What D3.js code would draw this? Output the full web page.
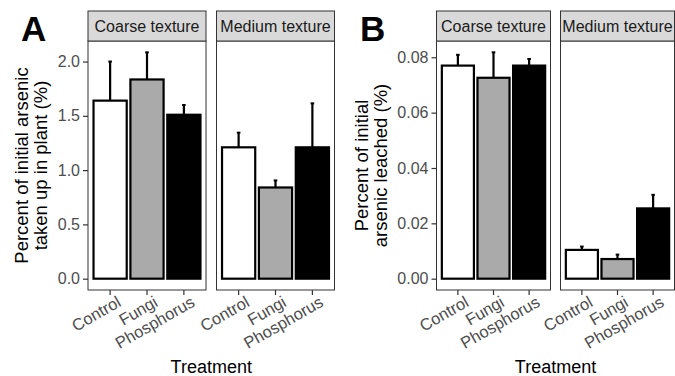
<!DOCTYPE html>
<html>
<head>
<meta charset="utf-8">
<script src="https://cdn.jsdelivr.net/npm/d3@7"></script>
<style>
  body { margin: 0; background: #fff; }
  text { font-family: "Liberation Sans", Arial, sans-serif; }
</style>
</head>
<body>
<svg id="chart"></svg>
<script>
// categories
const treatments = ["Control", "Fungi", "Phosphorus"];
const textures = ["Coarse texture", "Medium texture"];
const fills = ["#ffffff", "#aaaaaa", "#000000"];

// panel A: percent of initial arsenic taken up in plant
const plantCoarse = [1.64, 1.835, 1.51];
const plantCoarseSE = [0.36, 0.25, 0.09];
const plantMedium = [1.21, 0.84, 1.21];
const plantMediumSE = [0.135, 0.065, 0.405];
const plantTicks = [0, 0.5, 1.0, 1.5, 2.0];

// panel B: percent of initial arsenic leached
const leachCoarse = [0.077, 0.0726, 0.077];
const leachCoarseSE = [0.0039, 0.0092, 0.0024];
const leachMedium = [0.0104, 0.0071, 0.0254];
const leachMediumSE = [0.0012, 0.0016, 0.0049];
const leachTicks = [0, 0.02, 0.04, 0.06, 0.08];

let width = 675;
let height = 376;

let svg = d3.select("#chart")
    .attr("width", width)
    .attr("height", height);

// builds rows {texture, treatment, mean, se} for one measurement
function makeRows(means, ses) {
    let rows = [];
    textures.forEach((tex, f) => {
        treatments.forEach((tr, i) => {
            rows.push({ texture: tex, treatment: tr, mean: means[f][i], se: ses[f][i], fill: fills[i] });
        });
    });
    return rows;
}

function drawPanel(opts) {
    let g = svg.append("g");
    let top = 41, bottom = 290, stripTop = 11;

    // ggplot style 5% expansion around [0, max(mean + se)]
    let ymax = d3.max(opts.rows, d => d.mean + d.se);
    let pad = ymax * 0.05;
    let y = d3.scaleLinear()
        .domain([-pad, ymax + pad])
        .range([bottom, top]);

    textures.forEach((tex, f) => {
        let x0 = opts.left + f * (opts.facetWidth + opts.gap);
        let x1 = x0 + opts.facetWidth;
        let x = d3.scaleBand()
            .domain(treatments)
            .range([x0, x1])
            .paddingInner(0.1)
            .paddingOuter(0.15);

        let rows = opts.rows.filter(d => d.texture === tex);

        // bars
        g.append("g").selectAll("rect")
            .data(rows)
            .enter().append("rect")
            .attr("x", d => x(d.treatment))
            .attr("width", x.bandwidth())
            .attr("y", d => y(d.mean))
            .attr("height", d => y(0) - y(d.mean))
            .attr("fill", d => d.fill)
            .attr("stroke", "#000")
            .attr("stroke-width", 2.2);

        // error bars (upper half only)
        let err = g.append("g").selectAll("g")
            .data(rows)
            .enter().append("g");
        err.append("line")
            .attr("x1", d => x(d.treatment) + x.bandwidth() / 2)
            .attr("x2", d => x(d.treatment) + x.bandwidth() / 2)
            .attr("y1", d => y(d.mean))
            .attr("y2", d => y(d.mean + d.se))
            .attr("stroke", "#000")
            .attr("stroke-width", 2.2);
        err.append("line")
            .attr("x1", d => x(d.treatment) + x.bandwidth() / 2 - 1.8)
            .attr("x2", d => x(d.treatment) + x.bandwidth() / 2 + 1.8)
            .attr("y1", d => y(d.mean + d.se))
            .attr("y2", d => y(d.mean + d.se))
            .attr("stroke", "#000")
            .attr("stroke-width", 2);

        // panel border
        g.append("rect")
            .attr("x", x0).attr("y", top)
            .attr("width", opts.facetWidth).attr("height", bottom - top)
            .attr("fill", "none")
            .attr("stroke", "#333")
            .attr("stroke-width", 1);

        // strip
        g.append("rect")
            .attr("x", x0).attr("y", stripTop)
            .attr("width", opts.facetWidth).attr("height", top - stripTop)
            .attr("fill", "#d9d9d9")
            .attr("stroke", "#333")
            .attr("stroke-width", 1);
        g.append("text")
            .attr("x", (x0 + x1) / 2)
            .attr("y", (stripTop + top) / 2 + 6)
            .attr("text-anchor", "middle")
            .attr("font-size", 16)
            .attr("fill", "#1a1a1a")
            .text(tex);

        // x axis with rotated labels
        let xAxis = g.append("g")
            .attr("transform", `translate(0,${bottom})`)
            .call(d3.axisBottom(x).tickSize(5).tickSizeOuter(0));
        xAxis.select(".domain").remove();
        xAxis.selectAll(".tick line").attr("stroke", "#333").attr("stroke-width", 1.2);
        xAxis.selectAll(".tick text")
            .attr("font-size", 16.5)
            .attr("fill", "#4d4d4d")
            .attr("text-anchor", "end")
            .attr("x", 0).attr("y", 0).attr("dy", "0.72em")
            .attr("transform", "translate(6,5) rotate(-30)");

        // y axis only on the first facet
        if (f === 0) {
            let yAxis = g.append("g")
                .attr("transform", `translate(${x0},0)`)
                .call(d3.axisLeft(y).tickValues(opts.ticks).tickFormat(opts.format).tickSize(5));
            yAxis.select(".domain").remove();
            yAxis.selectAll(".tick line").attr("stroke", "#333").attr("stroke-width", 1.2);
            yAxis.selectAll(".tick text")
                .attr("font-size", 16)
                .attr("fill", "#4d4d4d")
                .attr("x", -8);
        }
    });

    // y title, two lines
    let cy = (top + bottom) / 2;
    opts.title.forEach((line, i) => {
        g.append("text")
            .attr("transform", `translate(${opts.titleX + i * 19},${cy}) rotate(-90)`)
            .attr("text-anchor", "middle")
            .attr("font-size", 18.5)
            .attr("fill", "#000")
            .text(line);
    });

    // x title
    g.append("text")
        .attr("x", opts.left + opts.facetWidth + opts.gap / 2)
        .attr("y", 373)
        .attr("text-anchor", "middle")
        .attr("font-size", 18)
        .attr("fill", "#000")
        .text("Treatment");

    // panel letter
    g.append("text")
        .attr("x", opts.letterX)
        .attr("y", 41)
        .attr("font-size", 35)
        .attr("font-weight", "bold")
        .attr("fill", "#000")
        .text(opts.letter);
}

drawPanel({
    rows: makeRows([plantCoarse, plantMedium], [plantCoarseSE, plantMediumSE]),
    ticks: plantTicks,
    format: d3.format(".1f"),
    left: 88, facetWidth: 118, gap: 10.5,
    title: ["Percent of initial arsenic", "taken up in plant (%)"],
    titleX: 28,
    letter: "A", letterX: 21
});

drawPanel({
    rows: makeRows([leachCoarse, leachMedium], [leachCoarseSE, leachMediumSE]),
    ticks: leachTicks,
    format: d3.format(".2f"),
    left: 436.5, facetWidth: 114, gap: 10,
    title: ["Percent of initial", "arsenic leached (%)"],
    titleX: 368,
    letter: "B", letterX: 360
});
</script>
</body>
</html>
